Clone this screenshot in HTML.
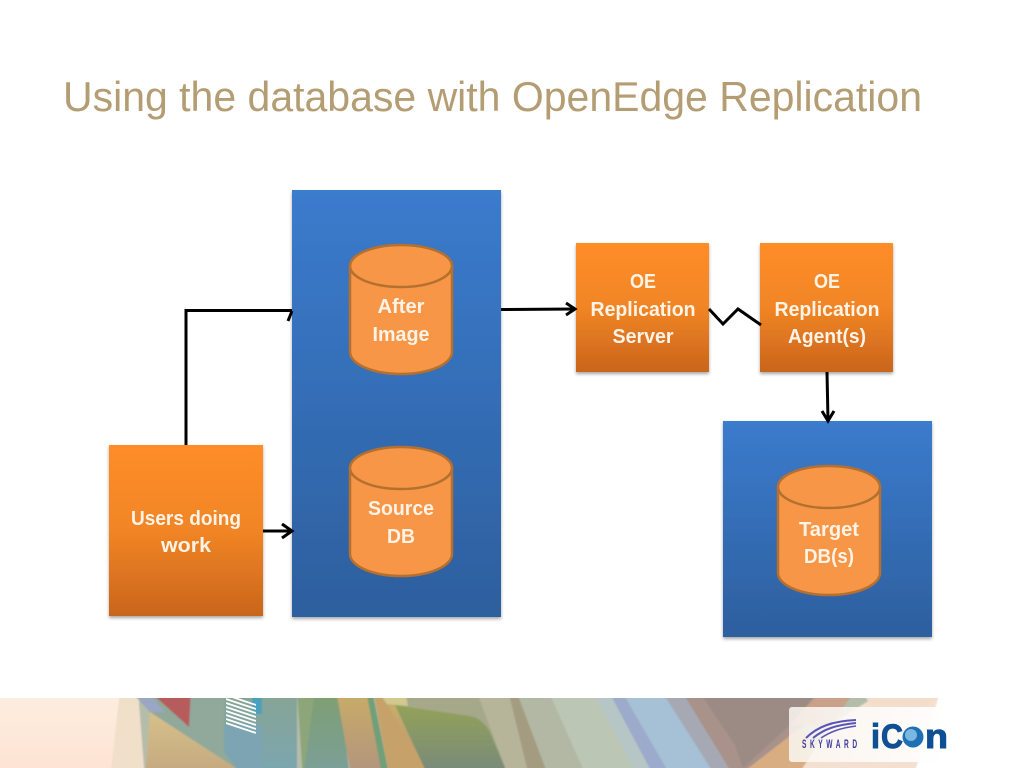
<!DOCTYPE html>
<html>
<head>
<meta charset="utf-8">
<style>
html,body{margin:0;padding:0;background:#fff;width:1024px;height:768px;overflow:hidden}
svg{display:block}
text{font-family:"Liberation Sans",sans-serif}
.l{font-weight:bold;font-size:20.500px;fill:#fdf3e7;text-anchor:middle}
.ic{font-size:34px;font-weight:bold;fill:#0f4f94;stroke:#0f4f94;stroke-width:1}
</style>
</head>
<body>
<svg width="1024" height="768" viewBox="0 0 1024 768" xmlns="http://www.w3.org/2000/svg">
<defs>
<linearGradient id="b" x1="0" y1="0" x2="0" y2="1"><stop offset="0" stop-color="#3b7bcd"/><stop offset="1" stop-color="#2d5f9e"/></linearGradient>
<linearGradient id="o" x1="0" y1="0" x2="0" y2="1"><stop offset="0" stop-color="#fe8d29"/><stop offset="0.5" stop-color="#f18525"/><stop offset="1" stop-color="#c9651c"/></linearGradient>
<linearGradient id="bg" x1="0" y1="0" x2="0" y2="1"><stop offset="0" stop-color="#fdeee0"/><stop offset="1" stop-color="#fde2d2"/></linearGradient>
<linearGradient id="olive" x1="0" y1="0" x2="0" y2="1"><stop offset="0" stop-color="#93a258"/><stop offset="1" stop-color="#75867e"/></linearGradient>
<linearGradient id="tan" x1="0" y1="0" x2="0" y2="1"><stop offset="0" stop-color="#c9ad66"/><stop offset="1" stop-color="#b09280"/></linearGradient>
<linearGradient id="tan2" x1="0" y1="0" x2="0" y2="1"><stop offset="0" stop-color="#d6c08a"/><stop offset="1" stop-color="#c2a67e"/></linearGradient>
<linearGradient id="col" x1="0" y1="0" x2="0" y2="1"><stop offset="0" stop-color="#88a494"/><stop offset="1" stop-color="#7aa6b2"/></linearGradient>
<linearGradient id="grn" x1="0" y1="0" x2="0" y2="1"><stop offset="0" stop-color="#7f9f70"/><stop offset="1" stop-color="#7a9f9c"/></linearGradient>
<linearGradient id="panel" x1="0" y1="0" x2="1" y2="0"><stop offset="0" stop-color="#fbf7f2" stop-opacity=".85"/><stop offset="1" stop-color="#fff" stop-opacity=".95"/></linearGradient>
<filter id="s" x="-10%" y="-10%" width="120%" height="120%"><feDropShadow dx="0" dy="2" stdDeviation="1.500" flood-color="#000" flood-opacity=".35"/></filter>
<filter id="soft" filterUnits="userSpaceOnUse" x="-20" y="680" width="1064" height="108"><feGaussianBlur stdDeviation="0.800"/></filter>
<clipPath id="band"><rect x="0" y="698" width="1024" height="70"/></clipPath>
<clipPath id="stripeclip"><polygon points="226,698 256,698 256,735 226,725"/></clipPath>
<g id="cyl">
<path d="M0 22 V108 A51 22 0 0 0 102 108 V22 Z" fill="#f79646" stroke="#b5702f" stroke-width="2.500"/>
<ellipse cx="51" cy="22" rx="51" ry="21" fill="#f79646" stroke="#b5702f" stroke-width="2.500"/>
</g>
</defs>

<text x="63" y="111" font-size="42" fill="#b49d72" textLength="859" lengthAdjust="spacingAndGlyphs">Using the database with OpenEdge Replication</text>

<!-- Containers -->
<rect x="292" y="190" width="209" height="427" fill="url(#b)" filter="url(#s)"/>
<rect x="723" y="421" width="209" height="216" fill="url(#b)" filter="url(#s)"/>

<!-- Orange boxes -->
<rect x="109" y="445" width="154" height="171" fill="url(#o)" filter="url(#s)"/>
<rect x="576" y="243" width="133" height="129" fill="url(#o)" filter="url(#s)"/>
<rect x="760" y="243" width="133" height="129" fill="url(#o)" filter="url(#s)"/>

<!-- Cylinders -->
<use href="#cyl" x="350" y="244"/>
<use href="#cyl" x="350" y="446"/>
<use href="#cyl" x="778" y="465"/>

<!-- Connectors -->
<g fill="none" stroke="#000" stroke-width="3">
<path d="M186 445 V310.500 H292"/>
<path d="M292 311 L288 321"/>
<path d="M263 531 H292"/>
<path d="M282 524 L292 531 L282 538"/>
<path d="M501 309.500 L575 309"/>
<path d="M566 303 L575 309 L566 315"/>
<path d="M709 309 L723 324 L738 309 L761 325"/>
<path d="M827 372 L828 420"/>
<path d="M822 411 L828 421 L834 411"/>
</g>

<!-- Labels -->
<text class="l" x="186" y="525" textLength="110" lengthAdjust="spacingAndGlyphs">Users doing</text>
<text class="l" x="186" y="552" textLength="50" lengthAdjust="spacingAndGlyphs">work</text>
<text class="l" x="401" y="313" textLength="47" lengthAdjust="spacingAndGlyphs">After</text>
<text class="l" x="401" y="341" textLength="57" lengthAdjust="spacingAndGlyphs">Image</text>
<text class="l" x="401" y="515" textLength="66" lengthAdjust="spacingAndGlyphs">Source</text>
<text class="l" x="401" y="543" textLength="28" lengthAdjust="spacingAndGlyphs">DB</text>
<text class="l" x="829" y="536" textLength="60" lengthAdjust="spacingAndGlyphs">Target</text>
<text class="l" x="829" y="563" textLength="50" lengthAdjust="spacingAndGlyphs">DB(s)</text>
<text class="l" x="643" y="288" textLength="26" lengthAdjust="spacingAndGlyphs">OE</text>
<text class="l" x="643" y="316" textLength="105" lengthAdjust="spacingAndGlyphs">Replication</text>
<text class="l" x="643" y="343" textLength="61" lengthAdjust="spacingAndGlyphs">Server</text>
<text class="l" x="827" y="288" textLength="26" lengthAdjust="spacingAndGlyphs">OE</text>
<text class="l" x="827" y="316" textLength="105" lengthAdjust="spacingAndGlyphs">Replication</text>
<text class="l" x="827" y="343" textLength="78" lengthAdjust="spacingAndGlyphs">Agent(s)</text>

<!-- Footer band -->
<g clip-path="url(#band)">
<g filter="url(#soft)">
<rect x="-20" y="690" width="1064" height="90" fill="url(#bg)"/>
<polygon points="120,690 151,690 146,780 110,780" fill="#f0dfc9"/>
<!-- base under art -->
<polygon points="138,690 948,690 910,780 145,780" fill="#b6bcaa"/>
<!-- tan wedge -->
<polygon points="150,712 255,780 145,780" fill="url(#tan2)"/>
<!-- grey-green diagonal band and columns -->
<polygon points="130,690 224,690 224,752 240,770 236,768 150,712" fill="#90a99a"/>
<polygon points="130,690 146,690 165,712 150,712" fill="#9aa6c4"/>
<polygon points="148,690 191,690 189,727" fill="#b65b5b"/>
<polygon points="224,690 297,690 297,780 245,780 224,750" fill="url(#col)"/>
<polygon points="224,725 262,725 262,780 245,780 224,752" fill="#7ba4b2"/>
<rect x="252" y="690" width="10" height="24" fill="#4ba0bc"/>
<polygon points="297,690 315,690 315,780 303,780" fill="#8ca67a"/>
<polygon points="315,690 340,690 350,780 303,780" fill="url(#grn)"/>
<!-- tan / yellow strips -->
<polygon points="336,690 366,690 384,780 352,780" fill="url(#tan)"/>
<polygon points="378,690 510,690 530,780 425,780" fill="#a6a88a"/>
<polygon points="376,690 405,690 408,706 384,704" fill="#d2c98e"/>
<polygon points="378,704 400,706 444,780 430,780" fill="url(#tan)"/>
<polygon points="366,690 372,690 390,780 383,780" fill="#6f9f78"/>
<polygon points="373,690 378,690 434,780 390,780" fill="#c6a26a"/>
<path d="M395 705 L470 716 Q482 718 490 732 L510 780 L430 780 Z" fill="url(#olive)"/>
<polygon points="476,690 508,690 530,780 510,780" fill="#b6b59a"/>
<!-- right side stripes -->
<polygon points="508,690 516,690 550,780 530,780" fill="#a49c80"/>
<polygon points="516,690 548,690 588,780 550,780" fill="#b2b8a4"/>
<polygon points="548,690 592,690 640,780 588,780" fill="#bbc6b4"/>
<polygon points="592,690 608,690 656,780 640,780" fill="#b6c6c6"/>
<polygon points="608,690 621,690 673,780 656,780" fill="#9caacb"/>
<polygon points="621,690 661,690 718,780 673,780" fill="#a6c0d6"/>
<polygon points="661,690 681,690 736,780 718,780" fill="#a6a9b4"/>
<polygon points="681,690 836,690 800,730 745,780 736,780" fill="#a8928a"/>
<polygon points="698,690 821,690 790,725 743,768 735,745" fill="#9c8b84"/>
<polygon points="733,780 800,728 840,780" fill="#d8ad82"/>
<polygon points="790,725 821,690 856,690 830,725" fill="#c9a08a"/>
<polygon points="795,780 830,725 886,690 948,690 910,780" fill="#f4e0d0"/>
<polygon points="861,690 948,690 890,735" fill="#f5ddcc"/>
<polygon points="941,690 1044,690 1044,780 912,780" fill="#fff"/>
</g>
<!-- White stripes -->
<g stroke="#fff" stroke-width="1.800" clip-path="url(#stripeclip)">
<line x1="226" y1="695" x2="256" y2="705"/>
<line x1="226" y1="699" x2="256" y2="709"/>
<line x1="226" y1="703" x2="256" y2="713"/>
<line x1="226" y1="707" x2="256" y2="717"/>
<line x1="226" y1="711" x2="256" y2="721"/>
<line x1="226" y1="715" x2="256" y2="725"/>
<line x1="226" y1="719" x2="256" y2="729"/>
<line x1="226" y1="723" x2="256" y2="733"/>
</g>
<!-- Logo panel -->
<rect x="789" y="707" width="158" height="55" rx="3" fill="url(#panel)"/>
</g>
<!-- Skyward logo -->
<g fill="none" stroke="#5a55b5">
<path d="M806 738 C817 727 832 721 856 720" stroke-width="2"/>
<path d="M813 738 C824 729 836 725 856 723" stroke-width="2"/>
<path d="M821 738 C830 732 840 728 856 726" stroke-width="1.600"/>
</g>
<text transform="translate(802,748) scale(.55,1)" font-size="12" font-weight="bold" fill="#3d3a9e" letter-spacing="6.500">SKYWARD</text>
<text class="ic" x="871" y="748" textLength="9" lengthAdjust="spacingAndGlyphs">i</text>
<text class="ic" x="881" y="748" textLength="22" lengthAdjust="spacingAndGlyphs">C</text>
<circle cx="913" cy="737" r="10.500" fill="#1f6fb4"/>
<circle cx="911" cy="735" r="6" fill="#7ab8e0"/>
<text class="ic" x="925" y="748" textLength="23" lengthAdjust="spacingAndGlyphs">n</text>
</svg>
</body>
</html>
